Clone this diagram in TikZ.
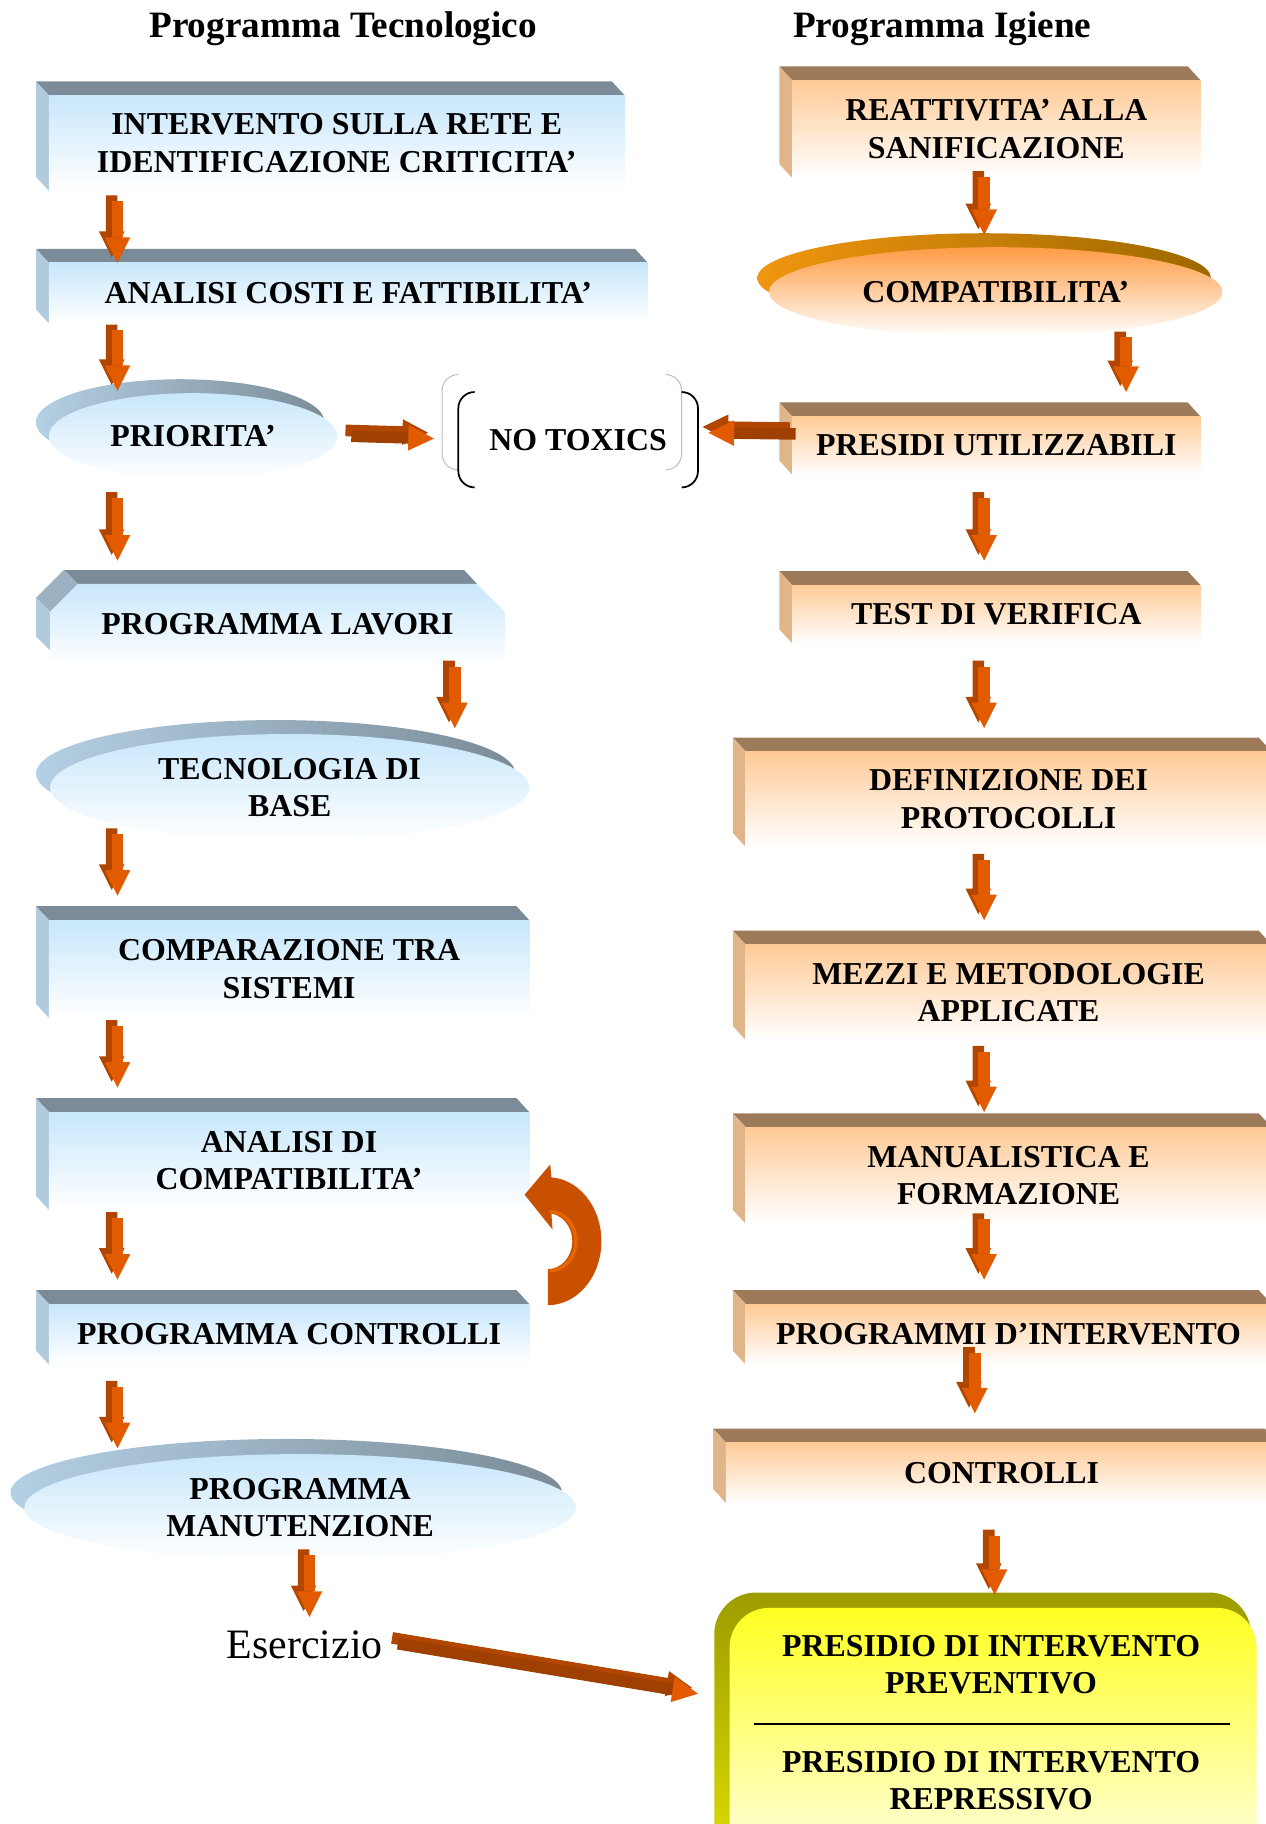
\documentclass[tikz,border=0pt]{standalone}
\usepackage{fontspec}
\setmainfont{Liberation Serif}
\usetikzlibrary{calc,shapes.geometric}
\pgfdeclarelayer{bg}
\pgfsetlayers{bg,main}

\definecolor{bface}{HTML}{C8E7FB}
\definecolor{btop}{HTML}{7B8C98}
\definecolor{bside}{HTML}{B2CADD}
\definecolor{bcham}{HTML}{9CB2C3}
\definecolor{bbackl}{HTML}{B4D0E4}
\definecolor{oface}{HTML}{FFCA96}
\definecolor{otop}{HTML}{9C7A5A}
\definecolor{oside}{HTML}{DFB589}
\definecolor{oell}{HTML}{FF9C44}
\definecolor{obackl}{HTML}{F0960F}
\definecolor{obackr}{HTML}{9E6800}
\definecolor{arrfront}{HTML}{E25B00}
\definecolor{arrside}{HTML}{B04600}
\definecolor{arrdark}{HTML}{A04000}
\definecolor{ylwtop}{HTML}{FFFF22}
\definecolor{ylwbot}{HTML}{FFFFF4}
\definecolor{ylwback}{HTML}{9C9C00}
\definecolor{ylwside}{HTML}{E4E400}
\definecolor{uarrow}{HTML}{C85000}
\definecolor{uarrowl}{HTML}{E86400}

\tikzset{
  lbl/.style={font=\fontsize{27.4}{32}\selectfont\bfseries, align=center, inner sep=0pt, outer sep=0pt},
  bluebox/.style={lbl, rectangle, top color=bface, bottom color=white},
  orbox/.style={lbl, rectangle, top color=oface, bottom color=white},
  blueell/.style={lbl, ellipse, top color=bface, bottom color=white},
  orell/.style={lbl, ellipse, top color=oell, bottom color=white},
  ttl/.style={font=\fontsize{32}{38}\selectfont\bfseries, inner sep=0pt},
  blueback/.style={left color=bbackl, right color=btop},
  orback/.style={left color=obackl, right color=obackr},
}

% top and left bevel of a box node
\newcommand\bev[3]{%
  \fill[#2] ($(#1.north west)+(-11,-12)$) -- ($(#1.north east)+(-11,-12)$) -- (#1.north east) -- (#1.north west) -- cycle;
  \fill[#3] ($(#1.north west)+(-11,-12)$) -- (#1.north west) -- (#1.south west) -- ($(#1.south west)+(-11,-12)$) -- cycle;
}

% thick 3D arrow from coordinate #1 to coordinate #2, shaft colour #3, head colour #4
\newcommand\tharrow[4]{%
  \path (#1); \pgfgetlastxy{\arAx}{\arAy}%
  \path (#2); \pgfgetlastxy{\arBx}{\arBy}%
  \pgfmathsetmacro\arAng{atan2((\arBy)-(\arAy),(\arBx)-(\arAx))}%
  \pgfmathsetmacro\arLen{veclen((\arBx)-(\arAx),(\arBy)-(\arAy))}%
  \pgfmathsetmacro\arHb{\arLen-22}%
  \begin{scope}[shift={(\arAx-5pt,\arAy+5pt)},rotate=\arAng]
    \fill[arrside] (0pt,-5pt) -- (\arHb pt,-5pt) -- (\arHb pt,-11pt) -- (\arLen pt,0pt) -- (\arHb pt,11pt) -- (\arHb pt,5pt) -- (0pt,5pt) -- cycle;
  \end{scope}
  \begin{scope}[shift={(\arAx,\arAy)},rotate=\arAng]
    \fill[#3] (0pt,-5pt) rectangle (\arHb pt,5pt);
    \fill[#4] (\arHb pt,-11pt) -- (\arLen pt,0pt) -- (\arHb pt,11pt) -- cycle;
  \end{scope}
}

\begin{document}
\begin{tikzpicture}[x=1pt,y=-1pt]
\useasboundingbox (0,0) rectangle (1088,1568);

% titles
\node[ttl] (T1) at (295,25) {Programma Tecnologico};
\node[ttl] (T2) at (810,25) {Programma Igiene};

% left column
\node[bluebox, minimum width=495pt, minimum height=82pt] (A) at (289.5,123) {INTERVENTO SULLA RETE E\\IDENTIFICAZIONE CRITICITA’};
\node[bluebox, minimum width=515pt, minimum height=52pt] (B) at (299.5,252) {ANALISI COSTI E FATTIBILITA’};
\node[blueell, minimum width=248pt, minimum height=74pt] (C) at (166,375) {PRIORITA’};
\node[lbl, minimum width=391pt, minimum height=70pt] (D) at (238.5,537) {PROGRAMMA LAVORI};
\node[blueell, minimum width=412pt, minimum height=92pt] (E) at (249,677) {TECNOLOGIA DI\\BASE};
\node[bluebox, minimum width=413pt, minimum height=84pt] (F) at (248.5,833) {COMPARAZIONE TRA\\SISTEMI};
\node[bluebox, minimum width=413pt, minimum height=84pt] (G) at (248.5,998) {ANALISI DI\\COMPATIBILITA’};
\node[bluebox, minimum width=413pt, minimum height=52pt] (H) at (248.5,1147) {PROGRAMMA CONTROLLI};
\node[blueell, minimum width=474pt, minimum height=92pt] (I) at (258,1296) {PROGRAMMA\\MANUTENZIONE};
\node[font=\fontsize{36}{42}\selectfont, inner sep=0pt] (J) at (262,1414) {Esercizio};

% middle
\node[lbl, minimum width=206pt, minimum height=82pt] (NO) at (497,378) {NO TOXICS};

% right column
\node[orbox, minimum width=351pt, minimum height=84pt] (R1) at (856.5,111) {REATTIVITA’ ALLA\\SANIFICAZIONE};
\node[orell, minimum width=390pt, minimum height=77pt] (R2) at (856,251) {COMPATIBILITA’};
\node[orbox, minimum width=351pt, minimum height=50pt] (R3) at (856.5,383) {PRESIDI UTILIZZABILI};
\node[orbox, minimum width=351pt, minimum height=50pt] (R4) at (856.5,528) {TEST DI VERIFICA};
\node[orbox, minimum width=452pt, minimum height=82pt] (R5) at (867,687) {DEFINIZIONE DEI\\PROTOCOLLI};
\node[orbox, minimum width=452pt, minimum height=82pt] (R6) at (867,853) {MEZZI E METODOLOGIE\\APPLICATE};
\node[orbox, minimum width=452pt, minimum height=83pt] (R7) at (867,1010.5) {MANUALISTICA E\\FORMAZIONE};
\node[orbox, minimum width=452pt, minimum height=52pt] (R8) at (867,1147) {PROGRAMMI D’INTERVENTO};
\node[orbox, minimum width=474pt, minimum height=52pt] (R9) at (861,1266) {CONTROLLI};

% yellow box
\node[rectangle, rounded corners=34pt, top color=ylwtop, bottom color=ylwbot, minimum width=453pt, minimum height=240pt, anchor=north west, inner sep=0pt] (R10) at (627,1382) {};
\node[lbl] (P1) at (852,1431) {PRESIDIO DI INTERVENTO\\PREVENTIVO};
\node[lbl] (P2) at (852,1531) {PRESIDIO DI INTERVENTO\\REPRESSIVO};
\coordinate (L1) at (648,1482);
\coordinate (L2) at (1057,1482);
\draw[line width=1.6pt] (L1) -- (L2);

% backgrounds: bevels and back rims
\begin{pgfonlayer}{bg}
  \bev{A}{btop}{bside}
  \bev{B}{btop}{bside}
  \bev{F}{btop}{bside}
  \bev{G}{btop}{bside}
  \bev{H}{btop}{bside}
  \bev{R1}{otop}{oside}
  \bev{R3}{otop}{oside}
  \bev{R4}{otop}{oside}
  \bev{R5}{otop}{oside}
  \bev{R6}{otop}{oside}
  \bev{R7}{otop}{oside}
  \bev{R8}{otop}{oside}
  \bev{R9}{otop}{oside}
  % chamfered box D
  \fill[btop] ($(D.north west)+(12,-12)$) -- ($(D.north east)+(-35,-12)$) -- ($(D.north east)+(-24,0)$) -- ($(D.north west)+(24,0)$) -- cycle;
  \fill[bcham] ($(D.north west)+(12,-12)$) -- ($(D.north west)+(-12,12)$) -- ($(D.north west)+(0,24)$) -- ($(D.north west)+(24,0)$) -- cycle;
  \fill[bside] ($(D.north west)+(-12,12)$) -- ($(D.north west)+(0,24)$) -- ($(D.south west)+(0,-13)$) -- ($(D.south west)+(-12,-25)$) -- cycle;
  \shade[top color=bface, bottom color=white] (D.south west) -- ($(D.north west)+(0,24)$) -- ($(D.north west)+(24,0)$) -- ($(D.north east)+(-24,0)$) -- ($(D.north east)+(0,24)$) -- (D.south east) -- cycle;
  % ellipse rims
  \shade[blueback] ($(C.center)+(-11,-12)$) ellipse [x radius=124pt, y radius=37pt];
  \shade[blueback] ($(E.center)+(-12,-12)$) ellipse [x radius=206pt, y radius=46pt];
  \shade[blueback] ($(I.center)+(-12,-13)$) ellipse [x radius=237pt, y radius=46pt];
  \shade[orback] ($(R2.center)+(-10,-12)$) ellipse [x radius=195pt, y radius=38.5pt];
  % yellow back
  \shade[rounded corners=36pt, top color=ylwback, bottom color=ylwside] ($(R10.north west)+(-13,-13)$) rectangle ($(R10.south east)+(-5,0)$);
\end{pgfonlayer}

% brackets round NO TOXICS
\draw[black!25, line width=0.9pt, rounded corners=14pt] ($(NO.north west)+(0,-15)$) -- ($(NO.north west)+(-14,-15)$) -- ($(NO.south west)+(-14,-15)$) -- ($(NO.south west)+(0,-15)$);
\draw[black!25, line width=0.9pt, rounded corners=14pt] ($(NO.north east)+(-28,-15)$) -- ($(NO.north east)+(-14,-15)$) -- ($(NO.south east)+(-14,-15)$) -- ($(NO.south east)+(-28,-15)$);
\draw[black, line width=1.5pt, rounded corners=14pt] ($(NO.north west)+(14,0)$) -- (NO.north west) -- (NO.south west) -- ($(NO.south west)+(14,0)$);
\draw[black, line width=1.5pt, rounded corners=14pt] ($(NO.north east)+(-14,0)$) -- (NO.north east) -- (NO.south east) -- ($(NO.south east)+(-14,0)$);

% U-turn arrow beside ANALISI DI COMPATIBILITA'
\coordinate (UC) at (471,1067);
\fill[uarrow] ($(UC)+(0,55)$) arc[start angle=-90, end angle=90, x radius=46pt, y radius=55pt]
  -- ($(UC)+(3,-55)$) -- ($(UC)+(2,-66)$) -- ($(UC)+(-20,-40)$) -- ($(UC)+(4,-10)$) -- ($(UC)+(3,-24)$) -- ($(UC)+(0,-24)$)
  arc[start angle=90, end angle=-90, x radius=21pt, y radius=24pt] -- cycle;
\draw[uarrowl, line width=3pt] ($(UC)+(1.5,-25.5)$) arc[start angle=90, end angle=-90, x radius=22.5pt, y radius=25.5pt];

% arrow end points
\coordinate (a1s) at (101,173);  \coordinate (a1e) at (101,226);
\coordinate (a2s) at (101,284);  \coordinate (a2e) at (101,336);
\coordinate (a3s) at (302,375);  \coordinate (a3e) at (373,377);
\coordinate (a4s) at (684,373);  \coordinate (a4e) at (609,372);
\coordinate (a5s) at (101,428);  \coordinate (a5e) at (101,482);
\coordinate (a6s) at (391,573);  \coordinate (a6e) at (391,626);
\coordinate (a7s) at (101,717);  \coordinate (a7e) at (101,770);
\coordinate (a8s) at (101,882);  \coordinate (a8e) at (101,935);
\coordinate (a9s) at (101,1047); \coordinate (a9e) at (101,1100);
\coordinate (a10s) at (101,1192); \coordinate (a10e) at (101,1245);
\coordinate (a11s) at (266,1337); \coordinate (a11e) at (266,1390);
\coordinate (a12s) at (342,1413); \coordinate (a12e) at (600,1456);
\coordinate (b1s) at (846,152);  \coordinate (b1e) at (846,202);
\coordinate (b2s) at (968,290);  \coordinate (b2e) at (968,337);
\coordinate (b3s) at (846,428);  \coordinate (b3e) at (846,482);
\coordinate (b4s) at (846,573);  \coordinate (b4e) at (846,626);
\coordinate (b5s) at (846,739);  \coordinate (b5e) at (846,791);
\coordinate (b6s) at (846,904);  \coordinate (b6e) at (846,956);
\coordinate (b7s) at (846,1048); \coordinate (b7e) at (846,1100);
\coordinate (b8s) at (838,1163); \coordinate (b8e) at (838,1215);
\coordinate (b9s) at (855,1320); \coordinate (b9e) at (855,1371);

\tharrow{a1s}{a1e}{arrfront}{arrfront}
\tharrow{a2s}{a2e}{arrfront}{arrfront}
\tharrow{a3s}{a3e}{arrdark}{arrfront}
\tharrow{a4s}{a4e}{arrdark}{arrfront}
\tharrow{a5s}{a5e}{arrfront}{arrfront}
\tharrow{a6s}{a6e}{arrfront}{arrfront}
\tharrow{a7s}{a7e}{arrfront}{arrfront}
\tharrow{a8s}{a8e}{arrfront}{arrfront}
\tharrow{a9s}{a9e}{arrfront}{arrfront}
\tharrow{a10s}{a10e}{arrfront}{arrfront}
\tharrow{a11s}{a11e}{arrfront}{arrfront}
\tharrow{a12s}{a12e}{arrdark}{arrfront}
\tharrow{b1s}{b1e}{arrfront}{arrfront}
\tharrow{b2s}{b2e}{arrfront}{arrfront}
\tharrow{b3s}{b3e}{arrfront}{arrfront}
\tharrow{b4s}{b4e}{arrfront}{arrfront}
\tharrow{b5s}{b5e}{arrfront}{arrfront}
\tharrow{b6s}{b6e}{arrfront}{arrfront}
\tharrow{b7s}{b7e}{arrfront}{arrfront}
\tharrow{b8s}{b8e}{arrfront}{arrfront}
\tharrow{b9s}{b9e}{arrfront}{arrfront}
\end{tikzpicture}
\end{document}
